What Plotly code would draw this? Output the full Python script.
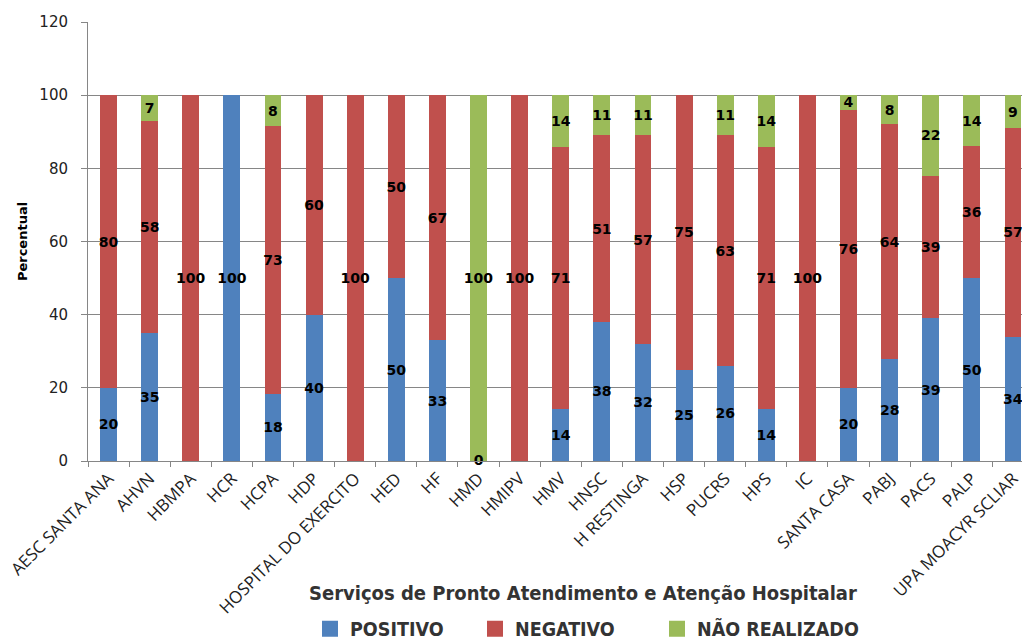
import plotly.graph_objects as go

categories = ["AESC SANTA ANA", "AHVN", "HBMPA", "HCR", "HCPA", "HDP", "HOSPITAL DO EXERCITO",
              "HED", "HF", "HMD", "HMIPV", "HMV", "HNSC", "H RESTINGA", "HSP", "PUCRS", "HPS",
              "IC", "SANTA CASA", "PABJ", "PACS", "PALP", "UPA MOACYR SCLIAR"]
positivo = [20, 35, None, 100, 18.4, 40, None, 50, 33, 0, None, 14.3, 38, 32, 25, 26, 14.3,
            None, 20, 28, 39, 50, 34]
negativo = [80, 58, 100, None, 73.2, 60, 100, 50, 67, None, 100, 71.4, 51, 57, 75, 63, 71.4,
            100, 76, 64, 39, 36, 57]
nao_realizado = [None, 7, None, None, 8.4, None, None, None, None, 100, None, 14.3, 11, 11, None,
                 11, 14.3, None, 4, 8, 22, 14, 9]
y_ticks = [0, 20, 40, 60, 80, 100, 120]

LABEL_FONT = dict(family="DejaVu Sans", size=14, color="black", weight="bold")

W, H = 1022, 641
L, R, T, B = 88, 0, 22, H - 461
PW = W - L - R
PH = H - T - B

def px_x(p):
    return (p - L) / PW

def px_y(p):
    return (H - B - p) / PH

def labels(vals):
    return ["" if v is None or v == 0 else f"{v:.0f}" for v in vals]

series = [("POSITIVO", positivo, "#4F81BD", "legend", 322),
          ("NEGATIVO", negativo, "#C0504D", "legend2", 487),
          ("NÃO REALIZADO", nao_realizado, "#9BBB59", "legend3", 669)]

fig = go.Figure()
for name, vals, color, leg, _ in series:
    fig.add_trace(go.Bar(
        x=categories, y=[0 if v is None else v for v in vals], name=name,
        marker=dict(color=color, line=dict(width=0)),
        text=labels(vals), textposition="inside", insidetextanchor="middle",
        textangle=0, constraintext="none", cliponaxis=False,
        textfont=LABEL_FONT, width=0.41, showlegend=False,
    ))

# zero-valued (but present) data labels, e.g. HMD POSITIVO = 0
zx, zy, zt = [], [], []
for name, vals, color, leg, _ in series:
    for c, v in zip(categories, vals):
        if v == 0:
            zx.append(c); zy.append(0); zt.append("0")
fig.add_trace(go.Scatter(x=zx, y=zy, text=zt, mode="text", textposition="middle center",
                         textfont=LABEL_FONT, showlegend=False, cliponaxis=False,
                         hoverinfo="skip"))

# legend entries (square swatches)
legend_font = dict(family="DejaVu Sans Condensed, DejaVu Sans", size=19.5, weight="bold", color="#333333")
legend_layouts = {}
for name, vals, color, leg, sq_left in series:
    fig.add_trace(go.Scatter(x=[None], y=[None], mode="markers", name=name, legend=leg,
                             marker=dict(symbol="square", size=17, color=color),
                             showlegend=True, hoverinfo="skip"))
    legend_layouts[leg] = dict(orientation="h", x=px_x(sq_left - 12), xanchor="left",
                               y=px_y(629), yanchor="middle", font=legend_font,
                               bgcolor="rgba(0,0,0,0)", itemwidth=30)

fig.update_layout(
    barmode="stack",
    width=W, height=H,
    margin=dict(l=L, r=R, t=T, b=B, autoexpand=False),
    plot_bgcolor="white", paper_bgcolor="white",
    font=dict(family="DejaVu Sans Condensed, DejaVu Sans", color="black"),
    showlegend=True,
    **legend_layouts,
)
fig.update_xaxes(
    range=[-0.5, 22.22], tickangle=-45,
    tickfont=dict(family="Open Sans", size=17, color="#222222"), automargin=False,
    showline=True, linecolor="#868686", linewidth=1,
    ticks="outside", tickson="boundaries", ticklen=5, tickcolor="#868686",
    showgrid=False,
)
fig.update_yaxes(
    range=[0, 120], tickvals=y_ticks, tickfont=dict(family="DejaVu Sans", size=15, color="#222222"),
    automargin=False,
    showline=True, linecolor="#868686", linewidth=1,
    ticks="outside", ticklen=6, tickcolor="#868686", ticklabelstandoff=10,
    showgrid=True, gridcolor="#868686", gridwidth=1, zeroline=False,
    title=dict(text="Percentual", font=dict(family="DejaVu Sans", size=13, weight="bold"), standoff=8),
)
fig.add_annotation(
    text="Serviços de Pronto Atendimento e Atenção Hospitalar",
    xref="paper", yref="paper", x=px_x(582.5), y=px_y(593), showarrow=False,
    xanchor="center", yanchor="middle",
    font=dict(family="DejaVu Sans Condensed, DejaVu Sans", size=20, weight="bold", color="#333333"),
)

fig.write_html("out.html", config={"displayModeBar": False},
               post_script="document.body.style.margin='0';document.body.style.overflow='hidden';")
